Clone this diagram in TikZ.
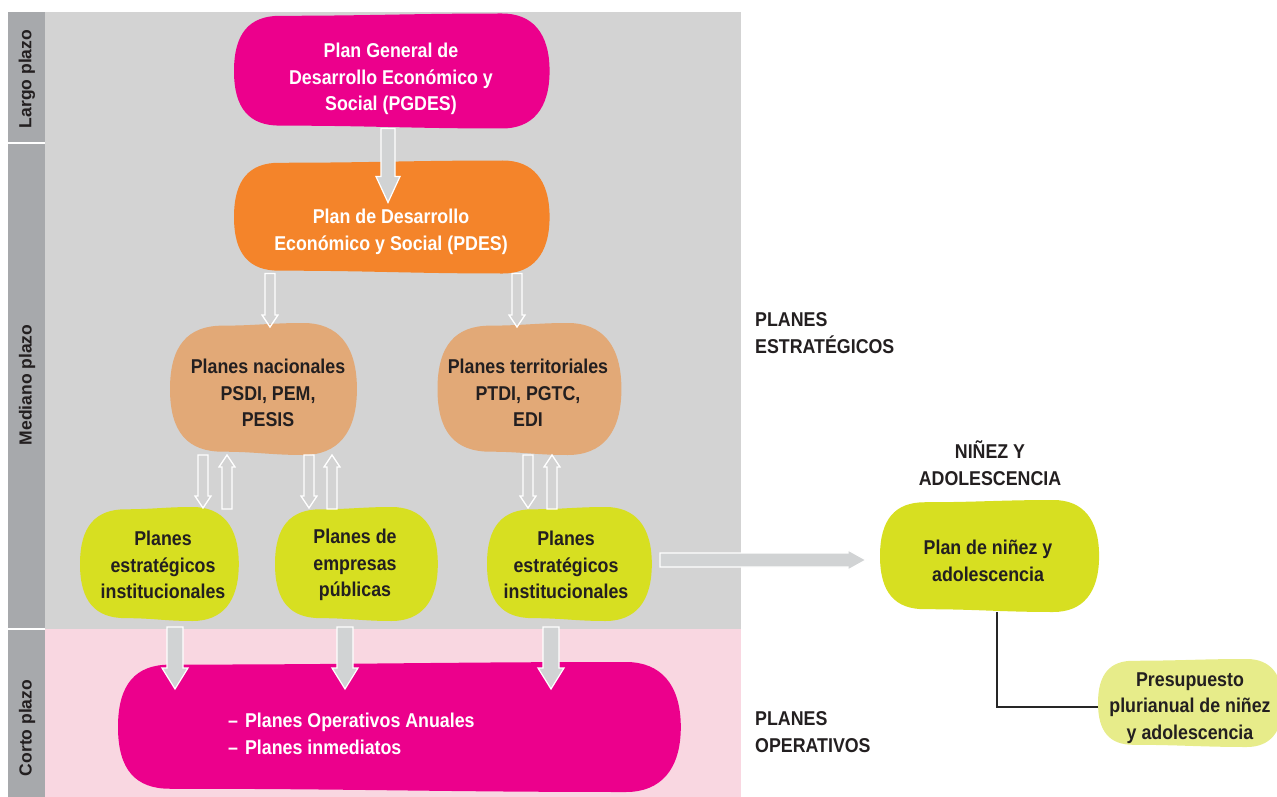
\documentclass[tikz,border=0pt]{standalone}
\usepackage{fontspec}
\setmainfont[FakeStretch=0.89]{Liberation Sans}
\newfontfamily\sidefnt{Liberation Sans}
\usetikzlibrary{calc}
\definecolor{magentaC}{HTML}{EC008C}
\definecolor{orangeC}{HTML}{F4842A}
\definecolor{tanC}{HTML}{E2A977}
\definecolor{greenC}{HTML}{D7DF21}
\definecolor{lgreenC}{HTML}{E7EC8A}
\definecolor{bgGrey}{HTML}{D3D3D3}
\definecolor{sideGrey}{HTML}{A7A9AC}
\definecolor{pinkC}{HTML}{F9D7E1}
\definecolor{arrGrey}{HTML}{D1D3D4}
\definecolor{txtDark}{HTML}{231F20}
\newcommand\mainsz{\bfseries\fontsize{20}{26.5}\selectfont}
\newcommand\sidesz{\sidefnt\bfseries\fontsize{17.5}{20}\selectfont}
\tikzset{
  wtxt/.style={text=white, font=\mainsz, align=center, inner sep=0pt},
  dtxt/.style={text=txtDark, font=\mainsz, align=center, inner sep=0pt},
  headtxt/.style={text=txtDark, font=\mainsz, align=left, inner sep=0pt},
  blobbox/.style={inner sep=0pt, outer sep=0pt},
  bigarr/.style={fill=arrGrey, draw=white, line width=1.2pt, line join=miter},
  hollowarr/.style={draw=white, line width=1.3pt, line join=miter},
  sidelab/.style={rotate=90, text=txtDark, font=\sidesz, inner sep=0pt},
  conn/.style={draw=black!85, line width=1.4pt}
}
% blob shape + named (empty) node with its box
\newcommand\blobnode[6]{% name, colour, cx, cy, w, h
  \begin{scope}[shift={(#3,#4)}]
    \pgfmathsetmacro\blA{#5/2}\pgfmathsetmacro\blB{#6/2}\pgfmathsetmacro\blR{0.8*\blB}
    \pgfmathsetmacro\blK{0.66}
    \pgfmathsetmacro\blS{0.4*(2*\blA-2*\blR)}
    \fill[#2] (-\blA,0)
      .. controls (-\blA,{-\blK*\blB}) and ({-\blA+(1-\blK)*\blR},{-0.96*\blB}) .. ({-\blA+\blR},{-0.96*\blB})
      .. controls ({-\blA+\blR+\blS},{-0.96*\blB}) and ({\blA-\blR-\blS},-\blB) .. ({\blA-\blR},-\blB)
      .. controls ({\blA-(1-\blK)*\blR},-\blB) and ({1.01*\blA},{-\blK*\blB}) .. ({1.01*\blA},0)
      .. controls ({1.01*\blA},{\blK*\blB}) and ({\blA-(1-\blK)*\blR},\blB) .. ({\blA-\blR},\blB)
      .. controls ({\blA-\blR-\blS},\blB) and ({-\blA+\blR+\blS},{0.95*\blB}) .. ({-\blA+\blR},{0.95*\blB})
      .. controls ({-\blA+(1-\blK)*\blR},{0.95*\blB}) and (-\blA,{\blK*\blB}) .. (-\blA,0)
      -- cycle;
  \end{scope}
  \node[blobbox, minimum width=#5pt, minimum height=#6pt] (#1) at (#3,#4) {};
}
% vertical block arrow: style, start, tip, shaft half, head half, head length
\newcommand\varrow[6]{%
  \draw[#1] let \p1=(#2), \p2=(#3), \n1={sign(\y2-\y1)} in
    ({\x2-#4pt},\y1) -- ({\x2-#4pt},{\y2-\n1*#6pt}) -- ({\x2-#5pt},{\y2-\n1*#6pt})
    -- (\x2,\y2) -- ({\x2+#5pt},{\y2-\n1*#6pt}) -- ({\x2+#4pt},{\y2-\n1*#6pt})
    -- ({\x2+#4pt},\y1) -- cycle;}
% horizontal block arrow (to the right)
\newcommand\harrow[6]{%
  \draw[#1] let \p1=(#2), \p2=(#3) in
    (\x1,{\y2+#4pt}) -- ({\x2-#6pt},{\y2+#4pt}) -- ({\x2-#6pt},{\y2+#5pt})
    -- (\x2,\y2) -- ({\x2-#6pt},{\y2-#5pt}) -- ({\x2-#6pt},{\y2-#4pt})
    -- (\x1,{\y2-#4pt}) -- cycle;}
\begin{document}
\begin{tikzpicture}[x=1pt,y=-1pt]
\useasboundingbox (0,0) rectangle (1277,797);
% backgrounds
\fill[bgGrey] (45,12) rectangle (741,629);
\fill[pinkC] (45,629) rectangle (741,797);
\fill[sideGrey] (8,12) rectangle (45,142.5);
\fill[sideGrey] (8,144.5) rectangle (45,627.5);
\fill[sideGrey] (8,630) rectangle (45,797);
\node[sidelab] (lp) at (27,79) {Largo plazo};
\node[sidelab] (mp) at (27,385) {Mediano plazo};
\node[sidelab] (cp) at (27,728) {Corto plazo};

% blobs
\blobnode{pgdes}{magentaC}{391}{71}{314}{115}
\blobnode{pdes}{orangeC}{391}{217}{314}{113}
\blobnode{nac}{tanC}{263}{389}{186}{132}
\blobnode{ter}{tanC}{529}{389}{183}{132}
\blobnode{ga}{greenC}{159}{564}{158}{114}
\blobnode{gb}{greenC}{356}{564}{162}{114}
\blobnode{gc}{greenC}{569}{564}{164}{114}
\blobnode{poa}{magentaC}{398}{727}{560}{130}
\blobnode{nin}{greenC}{989}{556}{218}{112}
\blobnode{pre}{lgreenC}{1190}{703}{184}{88}

% texts
\node[wtxt] (pgdes-t) at (391,79) {Plan General de\\Desarrollo Económico y\\Social (PGDES)};
\node[wtxt] (pdes-t) at (391,232) {Plan de Desarrollo\\Económico y Social (PDES)};
\node[dtxt] (nac-t) at (268,393) {Planes nacionales\\PSDI, PEM,\\PESIS};
\node[dtxt] (ter-t) at (528,393) {Planes territoriales\\PTDI, PGTC,\\EDI};
\node[dtxt] (ga-t) at (163,565) {Planes\\estratégicos\\institucionales};
\node[dtxt] (gb-t) at (355,565) {Planes de\\empresas\\públicas};
\node[dtxt] (gc-t) at (566,565) {Planes\\estratégicos\\institucionales};
\node[wtxt, align=left, anchor=west] (poa-t) at (228,734) {–\hspace{0.35em}Planes Operativos Anuales\\–\hspace{0.35em}Planes inmediatos};
\node[dtxt] (nin-t) at (988,561) {Plan de niñez y\\adolescencia};
\node[dtxt] (pre-t) at (1190,708) {Presupuesto\\plurianual de niñez\\y adolescencia};
\node[dtxt] (nin-h) at (990,463) {NIÑEZ Y\\ADOLESCENCIA};
\node[headtxt, anchor=west] (pe-h) at (755,333) {PLANES\\ESTRATÉGICOS};
\node[headtxt, anchor=west] (po-h) at (755,732) {PLANES\\OPERATIVOS};

% arrows
\varrow{bigarr}{pgdes.south}{[xshift=-3pt,yshift=-42pt]pdes.north}{7}{12}{26}
\varrow{hollowarr}{pdes.south}{[xshift=7pt,yshift=-4pt]nac.north}{5}{8}{12}
\varrow{hollowarr}{pdes.south}{[xshift=-12pt,yshift=-4pt]ter.north}{5}{8}{12}
% pairs
\varrow{hollowarr}{nac.south}{[xshift=44pt,yshift=-1pt]ga.north}{5}{8}{12}
\varrow{hollowarr}{[yshift=-2pt]ga.north}{[xshift=-36pt]nac.south}{5}{8}{12}
\varrow{hollowarr}{nac.south}{[xshift=-47pt,yshift=-1pt]gb.north}{5}{8}{12}
\varrow{hollowarr}{[yshift=-2pt]gb.north}{[xshift=69pt]nac.south}{5}{8}{12}
\varrow{hollowarr}{ter.south}{[xshift=-41pt,yshift=-1pt]gc.north}{5}{8}{12}
\varrow{hollowarr}{[yshift=-2pt]gc.north}{[xshift=23pt]ter.south}{5}{8}{12}
% to POA
\varrow{bigarr}{[yshift=-6pt]ga.south}{[xshift=-223pt,yshift=-27pt]poa.north}{8}{13}{21}
\varrow{bigarr}{[yshift=-6pt]gb.south}{[xshift=-53pt,yshift=-27pt]poa.north}{8}{13}{21}
\varrow{bigarr}{[yshift=-6pt]gc.south}{[xshift=153pt,yshift=-27pt]poa.north}{8}{13}{21}
% to niñez
\harrow{bigarr}{[xshift=9pt]gc.east}{[xshift=-14pt,yshift=-4pt]nin.west}{7}{10}{18}
% connector
\draw[conn] ([xshift=8pt]nin.south) |- ([yshift=-4pt]pre.west);
\end{tikzpicture}
\end{document}
